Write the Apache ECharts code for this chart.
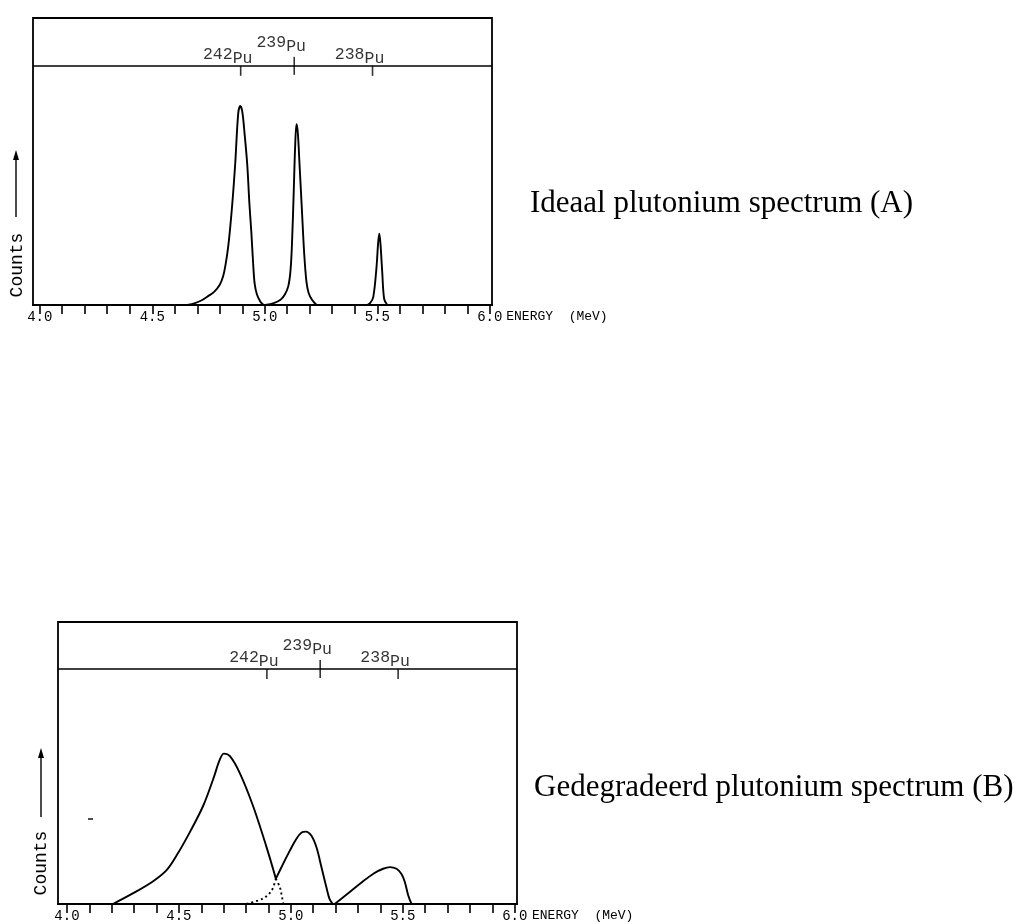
<!DOCTYPE html>
<html>
<head>
<meta charset="utf-8">
<script src="https://cdn.jsdelivr.net/npm/echarts@6/dist/echarts.min.js"></script>
<style>
html,body{margin:0;padding:0;background:#fff;}
#chart{width:1020px;height:924px;}
</style>
</head>
<body>
<div id="chart"></div>
<script>
// ---------- data ----------
const xTickValues = [4.0,4.1,4.2,4.3,4.4,4.5,4.6,4.7,4.8,4.9,5.0,5.1,5.2,5.3,5.4,5.5,5.6,5.7,5.8,5.9,6.0];
const xLabelValues = [4.0,4.5,5.0,5.5,6.0];
const isotopeNames = ['242','239','238'];
const isotopeEnergy = [4.893,5.131,5.479];

// Ideal spectrum (A)
const a242E = [4.656,4.69,4.72,4.75,4.775,4.80,4.815,4.826,4.837,4.847,4.858,4.869,4.882,4.891,4.900,4.910,4.922,4.932,4.940,4.948,4.955,4.965,4.98,4.995];
const a242C = [0,0.8,2,3.8,5.5,8.5,12,17,24,33,45,59.5,80,83.2,81,72,59,42,31,18,9,4.5,1.5,0];
const a239E = [5.002,5.04,5.07,5.09,5.105,5.115,5.122,5.129,5.135,5.141,5.147,5.155,5.165,5.175,5.185,5.195,5.21,5.23];
const a239C = [0,0.8,2.2,4.5,8,15,28,48,66,75.6,72,58,40,22,10,5,2.2,0];
const a238E = [5.455,5.468,5.482,5.496,5.504,5.509,5.514,5.522,5.531,5.545];
const a238C = [0,0.8,3.2,15,26,29.8,26,14,2.4,0];

// Degraded spectrum (B)
const b242E = [4.205,4.296,4.385,4.445,4.490,4.549,4.608,4.653,4.683,4.701,4.728,4.772,4.832,4.891,4.933];
const b242C = [0,4.6,9.7,14.4,20.7,30.6,41.7,53.1,61.5,64.0,62.9,55.7,41.5,24.3,10.8];
const b242TailE = [4.933,4.951,4.958,4.966];
const b242TailC = [10.8,7.1,4.3,0];
const b239FootE = [4.802,4.876,4.914,4.933];
const b239FootC = [0,2.4,5.7,10.8];
const b239E = [4.933,4.966,4.996,5.025,5.048,5.067,5.092,5.115,5.137,5.159,5.173,5.188];
const b239C = [10.8,17.2,22.8,27.8,30.4,30.8,29,23.9,15.5,7,2.1,0];
const b238E = [5.196,5.249,5.31,5.37,5.412,5.442,5.472,5.494,5.509,5.524,5.539];
const b238C = [0,4,8.7,13,15,15.7,15,12.8,9.4,3.7,0];

const headerLevel = 100;
const titleA = 'Ideaal plutonium spectrum (A)';
const titleB = 'Gedegradeerd plutonium spectrum (B)';

// ---------- build ----------
const MONO = '"Liberation Mono","DejaVu Sans Mono",monospace';
const SERIF = '"Liberation Serif","DejaVu Serif",serif';
const zip = (xs, ys) => xs.map((x, i) => [x, ys[i]]);

function curve(xs, ys, idx, dotted) {
  return {
    type: 'line', xAxisIndex: idx, yAxisIndex: idx,
    data: zip(xs, ys), symbol: 'none', smooth: 0.35, silent: true,
    lineStyle: { color: '#000', width: 1.9, type: dotted ? [2, 3] : 'solid' },
    z: 3
  };
}

// tick style per isotope (239 crosses the header line)
const tickLen = [10, 18, 10];
const tickOff = [5, 0, 5];
const labelLift = [-1, 11, -1];

function isotopeSeries(idx) {
  return [
    {
      type: 'scatter', xAxisIndex: idx, yAxisIndex: idx, silent: true, clip: false,
      symbol: 'rect',
      data: isotopeEnergy.map((e, i) => ({
        value: [e, headerLevel],
        symbolSize: [1.6, tickLen[i]],
        symbolOffset: [0, tickOff[i]]
      })),
      itemStyle: { color: '#000' }, z: 4,
      markLine: {
        silent: true, symbol: ['none', 'none'], label: { show: false },
        lineStyle: { color: '#000', width: 1.6, type: 'solid' },
        data: [{ yAxis: headerLevel }]
      }
    },
    {
      type: 'scatter', xAxisIndex: idx, yAxisIndex: idx, silent: true, clip: false,
      symbolSize: 0,
      data: isotopeEnergy.map((e, i) => ({
        value: [e, headerLevel],
        label: { distance: labelLift[i] }
      })),
      label: {
        show: true, position: 'top', offset: [-13, 0],
        formatter: (p) => '{n|' + isotopeNames[p.dataIndex] + '}{p|Pu}',
        rich: {
          n: { fontFamily: MONO, fontSize: 16.5, color: '#000', lineHeight: 13, verticalAlign: 'top' },
          p: { fontFamily: MONO, fontSize: 16.5, color: '#000', lineHeight: 21, verticalAlign: 'bottom' }
        }
      }
    }
  ];
}

function xAxis(idx, gap) {
  return {
    type: 'value', gridIndex: idx, min: idx === 0 ? 3.97 : 3.96, max: 6.01,
    position: 'bottom',
    axisLine: { show: true, onZero: false, lineStyle: { color: '#000', width: 2 } },
    axisTick: { show: true, customValues: xTickValues, length: 9, inside: false, lineStyle: { color: '#000', width: 1.6 } },
    axisLabel: {
      show: true, customValues: xLabelValues, margin: 5, color: '#000',
      fontFamily: MONO, fontSize: 14, formatter: (v) => v.toFixed(1)
    },
    splitLine: { show: false },
    name: 'ENERGY  (MeV)', nameLocation: 'end', nameGap: gap,
    nameTextStyle: { fontFamily: MONO, fontSize: 13, color: '#000', verticalAlign: 'top', padding: [5, 0, 0, 0] }
  };
}
function yAxis(idx) {
  return {
    type: 'value', gridIndex: idx, min: 0, max: 120,
    axisLine: { show: false }, axisTick: { show: false }, axisLabel: { show: false }, splitLine: { show: false }
  };
}

function countsLabel(cx, cy, arrowTop, arrowBottom, ax) {
  return [
    { type: 'text', x: cx, y: cy, rotation: Math.PI / 2,
      style: { text: 'Counts', fontFamily: MONO, fontSize: 18, fill: '#000', align: 'center', verticalAlign: 'middle' } },
    { type: 'line', shape: { x1: ax, y1: arrowBottom, x2: ax, y2: arrowTop + 8 }, style: { stroke: '#000', lineWidth: 1.4 } },
    { type: 'polygon', shape: { points: [[ax, arrowTop], [ax - 3, arrowTop + 10], [ax + 3, arrowTop + 10]] }, style: { fill: '#000' } }
  ];
}

const option = {
  animation: false,
  backgroundColor: '#fff',
  title: [
    { text: titleA, left: 525, top: 183, textStyle: { fontFamily: SERIF, fontSize: 31, fontWeight: 'normal', color: '#000' } },
    { text: titleB, left: 529, top: 767, textStyle: { fontFamily: SERIF, fontSize: 31, fontWeight: 'normal', color: '#000' } }
  ],
  grid: [
    { left: 33, top: 18, width: 459, height: 287, show: true, borderColor: '#000', borderWidth: 1.8, backgroundColor: 'transparent' },
    { left: 58, top: 622, width: 459, height: 282, show: true, borderColor: '#000', borderWidth: 1.8, backgroundColor: 'transparent' }
  ],
  xAxis: [xAxis(0, 13), xAxis(1, 15)],
  yAxis: [yAxis(0), yAxis(1)],
  series: [
    curve(a242E, a242C, 0), curve(a239E, a239C, 0), curve(a238E, a238C, 0),
    curve(b242E, b242C, 1), curve(b242TailE, b242TailC, 1, true), curve(b239FootE, b239FootC, 1, true),
    curve(b239E, b239C, 1), curve(b238E, b238C, 1),
    ...isotopeSeries(0), ...isotopeSeries(1)
  ],
  graphic: [
    ...countsLabel(17, 265, 150, 217, 16),
    ...countsLabel(41, 863, 748, 817, 41),
    { type: 'line', shape: { x1: 88, y1: 819, x2: 93, y2: 819 }, style: { stroke: '#000', lineWidth: 1.4 } }
  ]
};

const chart = echarts.init(document.getElementById('chart'), null, { renderer: 'canvas' });
chart.setOption(option);
</script>
</body>
</html>
